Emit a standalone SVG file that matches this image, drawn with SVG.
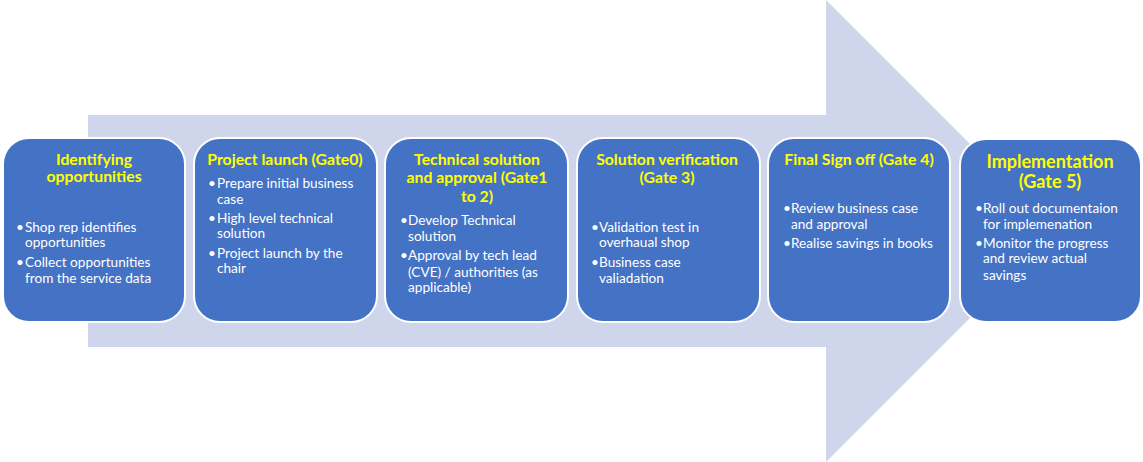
<svg xmlns="http://www.w3.org/2000/svg" width="1143" height="462" viewBox="0 0 1143 462">
  <style>
    .box { fill: #4472C4; stroke: #FFFFFF; stroke-width: 2; }
    .title { font-family: Lato, "Liberation Sans", sans-serif; font-weight: bold; font-size: 15.8px; fill: #FFFF00; text-anchor: middle; }
    .title-lg { font-size: 18px; }
    .item { font-family: Lato, "Liberation Sans", sans-serif; font-size: 13.6px; fill: #FFFFFF; }
    .dot { font-family: Lato, "Liberation Sans", sans-serif; font-size: 13.6px; fill: #FFFFFF; }
  </style>

  <!-- process arrow in the background -->
  <g id="connectors">
    <polygon points="88,115 826,115 826,0 1057,231 826,462 826,347 88,347" fill="#CFD5EA"/>
  </g>

  <g id="stage-identifying">
    <rect class="box" x="3" y="138" width="182" height="184" rx="26"/>
    <text class="title" x="94" y="165">Identifying</text>
    <text class="title" x="94" y="182">opportunities</text>
    <text class="dot" x="16" y="232">•</text>
    <text class="item" x="25" y="232">Shop rep identifies</text>
    <text class="item" x="25" y="247">opportunities</text>
    <text class="dot" x="16" y="267">•</text>
    <text class="item" x="25" y="267">Collect opportunities</text>
    <text class="item" x="25" y="283">from the service data</text>
  </g>

  <g id="stage-launch">
    <rect class="box" x="194" y="138" width="183" height="184" rx="26"/>
    <text class="title" x="285" y="165">Project launch (Gate0)</text>
    <text class="dot" x="208" y="188">•</text>
    <text class="item" x="217" y="188">Prepare initial business</text>
    <text class="item" x="217" y="204">case</text>
    <text class="dot" x="208" y="223">•</text>
    <text class="item" x="217" y="223">High level technical</text>
    <text class="item" x="217" y="238">solution</text>
    <text class="dot" x="208" y="258">•</text>
    <text class="item" x="217" y="258">Project launch by the</text>
    <text class="item" x="217" y="273">chair</text>
  </g>

  <g id="stage-technical">
    <rect class="box" x="385" y="138" width="183" height="184" rx="26"/>
    <text class="title" x="477" y="165">Technical solution</text>
    <text class="title" x="477" y="183">and approval (Gate1</text>
    <text class="title" x="477" y="202">to 2)</text>
    <text class="dot" x="400" y="225">•</text>
    <text class="item" x="408" y="225">Develop Technical</text>
    <text class="item" x="408" y="241">solution</text>
    <text class="dot" x="400" y="260">•</text>
    <text class="item" x="408" y="260">Approval by tech  lead</text>
    <text class="item" x="408" y="277">(CVE) / authorities (as</text>
    <text class="item" x="408" y="292">applicable)</text>
  </g>

  <g id="stage-verification">
    <rect class="box" x="577" y="138" width="183" height="184" rx="26"/>
    <text class="title" x="667" y="165">Solution verification</text>
    <text class="title" x="667" y="183">(Gate 3)</text>
    <text class="dot" x="591" y="232">•</text>
    <text class="item" x="599" y="232">Validation test  in</text>
    <text class="item" x="599" y="247">overhaual shop</text>
    <text class="dot" x="591" y="267">•</text>
    <text class="item" x="599" y="267">Business case</text>
    <text class="item" x="599" y="283">valiadation</text>
  </g>

  <g id="stage-signoff">
    <rect class="box" x="768" y="138" width="182" height="184" rx="26"/>
    <text class="title" x="859" y="165">Final Sign off (Gate 4)</text>
    <text class="dot" x="783" y="213">•</text>
    <text class="item" x="791" y="213">Review business case</text>
    <text class="item" x="791" y="229">and approval</text>
    <text class="dot" x="783" y="248">•</text>
    <text class="item" x="791" y="248">Realise savings in  books</text>
  </g>

  <g id="stage-implementation">
    <rect class="box" x="960" y="139" width="181" height="183" rx="26"/>
    <text class="title title-lg" x="1050" y="168">Implementation</text>
    <text class="title title-lg" x="1050" y="188">(Gate 5)</text>
    <text class="dot" x="975" y="213">•</text>
    <text class="item" x="983" y="213">Roll out documentaion</text>
    <text class="item" x="983" y="229">for implemenation</text>
    <text class="dot" x="975" y="248">•</text>
    <text class="item" x="983" y="248">Monitor the progress</text>
    <text class="item" x="983" y="263">and review actual</text>
    <text class="item" x="983" y="280">savings</text>
  </g>
</svg>
